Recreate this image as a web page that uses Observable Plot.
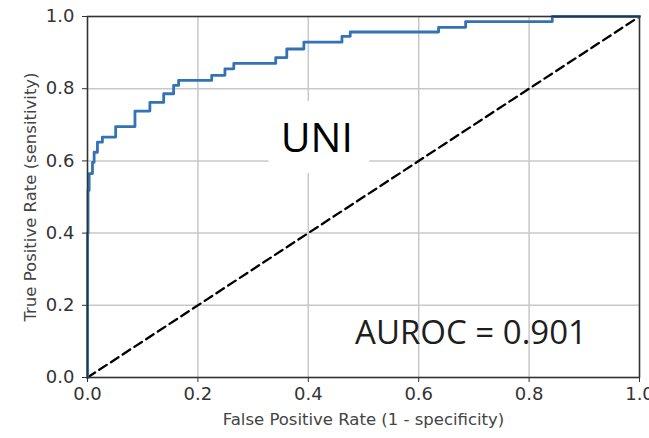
<!DOCTYPE html>
<html>
<head>
<meta charset="utf-8">
<script src="https://cdn.jsdelivr.net/npm/d3@7"></script>
<script src="https://cdn.jsdelivr.net/npm/@observablehq/plot@0.6"></script>
<style>
  html, body { margin: 0; padding: 0; background: white; overflow: hidden; }
</style>
</head>
<body>
<div id="chart"></div>
<script>
// ROC curve corner points (top of each riser)
const fpr = [0, 0, 0.001, 0.003, 0.009, 0.012, 0.018, 0.027, 0.051, 0.086, 0.113, 0.138, 0.156, 0.165, 0.225, 0.249, 0.265, 0.341, 0.361, 0.392, 0.461, 0.476, 0.636, 0.685, 0.842, 1.0];
const tpr = [0, 0.40, 0.518, 0.565, 0.596, 0.624, 0.652, 0.666, 0.695, 0.738, 0.762, 0.786, 0.809, 0.823, 0.837, 0.855, 0.870, 0.886, 0.910, 0.929, 0.945, 0.957, 0.970, 0.986, 1.0, 1.0];
// chance diagonal
const chanceX = [0, 1];
const chanceY = [0, 1];
// ticks and texts
const ticks = [0, 0.2, 0.4, 0.6, 0.8, 1.0];
const xLabel = "False Positive Rate (1 - specificity)";
const yLabel = "True Positive Rate (sensitivity)";
const modelName = "UNI";
const aurocText = "AUROC = 0.901";

const roc = fpr.map((x, i) => ({fpr: x, tpr: tpr[i]}));
const chance = chanceX.map((x, i) => ({fpr: x, tpr: chanceY[i]}));

const chart = Plot.plot({
  width: 649,
  height: 438,
  marginLeft: 87,
  marginRight: 10,
  marginTop: 16,
  marginBottom: 61,
  style: {fontFamily: "DejaVu Sans", fontSize: "18px", color: "#333", background: "white", overflow: "visible"},
  x: {domain: [0, 1]},
  y: {domain: [0, 1]},
  marks: [
    Plot.gridX(ticks, {stroke: "#c8c8c8", strokeOpacity: 1, strokeWidth: 1.5}),
    Plot.gridY(ticks, {stroke: "#c8c8c8", strokeOpacity: 1, strokeWidth: 1.5}),
    Plot.line(chance, {x: "fpr", y: "tpr", stroke: "black", strokeWidth: 2.3, strokeDasharray: "9,5"}),
    Plot.line(roc, {x: "fpr", y: "tpr", curve: "step-after", stroke: "#3373b5", strokeWidth: 2.8}),
    Plot.frame({stroke: "#333", strokeWidth: 1.5}),
    Plot.axisX(ticks, {tickFormat: d3.format(".1f"), tickSize: 5, tickPadding: 5, label: null, fontSize: 18, stroke: "#333"}),
    Plot.axisY(ticks, {tickFormat: d3.format(".1f"), tickSize: 5, tickPadding: 8, label: null, fontSize: 18, stroke: "#333"}),
    Plot.text([xLabel], {frameAnchor: "bottom", dy: 47, fontSize: 16.5, fill: "#444"}),
    Plot.text([yLabel], {frameAnchor: "left", textAnchor: "middle", rotate: -90, dx: -57, fontSize: 16.5, fill: "#444"}),
    Plot.text([modelName], {x: 0.4154, y: 0.662, text: d => d, fontFamily: "Open Sans", fontSize: 41, fontWeight: 500, fill: "black", stroke: "white", strokeWidth: 44, strokeLinejoin: "round", paintOrder: "stroke"}),
    Plot.text([aurocText], {x: 0.6947, y: 0.1227, text: d => d, fontFamily: "Open Sans", fontSize: 33, fill: "#1e1e1e"})
  ]
});
document.getElementById("chart").append(chart);
</script>
</body>
</html>
